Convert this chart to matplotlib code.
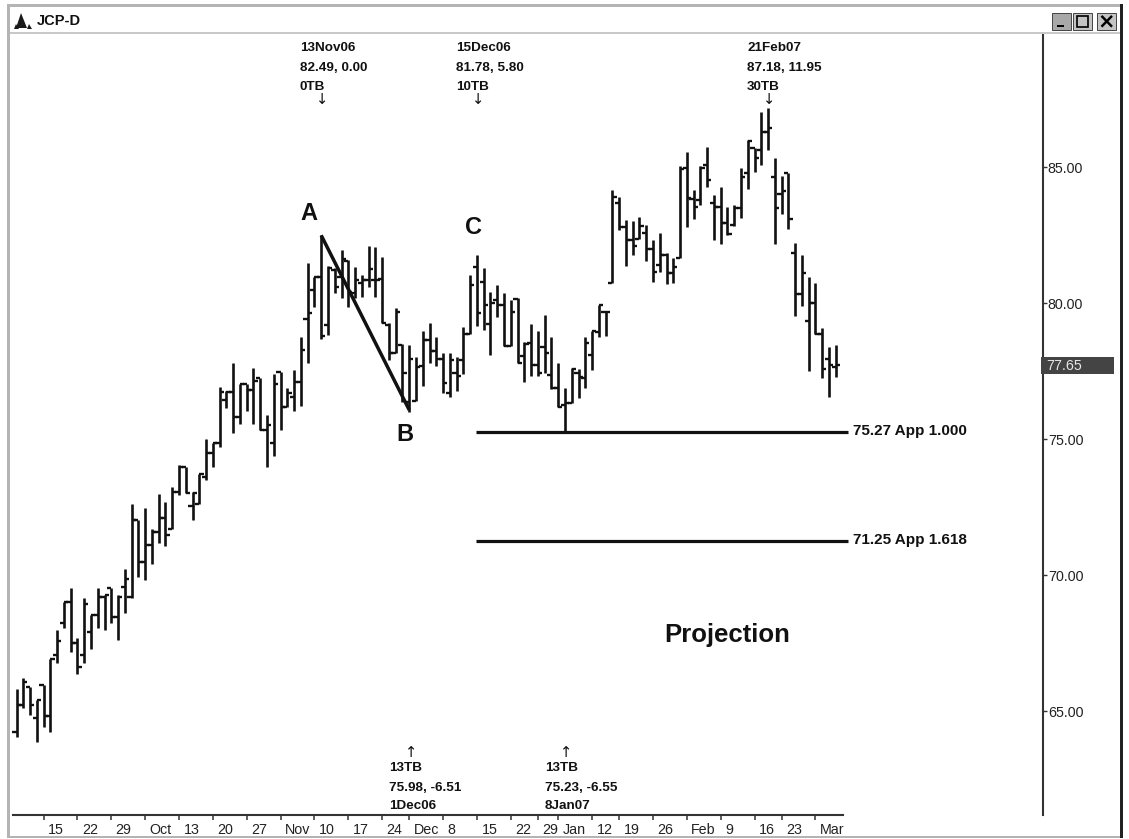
"""
JCP-D daily bars with the ABC projection levels.
"""
import matplotlib
matplotlib.use("Agg")
import matplotlib.pyplot as plt
from matplotlib.patches import Rectangle, Polygon
from matplotlib.transforms import ScaledTranslation

W, H = 1129, 839

# Data (one entry per trading day)
opens = [64.24, 65.22, 65.89, 64.73, 65.95, 64.81, 67.06, 68.25, 69.02, 67.49,
         67.06, 67.91, 68.53, 69.20, 69.51, 68.47, 69.57, 69.18, 72.02, 70.49,
         71.10, 71.59, 72.08, 71.71, 73.06, 73.96, 72.53, 72.63, 73.61, 74.47,
         74.84, 76.43, 76.74, 75.82, 77.04, 76.80, 77.23, 75.33, 74.84, 77.47,
         76.16, 76.55, 77.11, 79.40, 80.48, 80.97, 79.19, 81.22, 80.97, 81.55,
         80.36, 80.73, 80.85, 80.85, 80.87, 79.19, 78.15, 78.46, 76.38, 76.41,
         77.69, 78.64, 78.25, 77.93, 76.71, 77.42, 77.91, 78.86, 81.34, 80.79,
         79.23, 80.11, 79.93, 78.42, 80.15, 78.05, 78.52, 77.72, 78.40, 77.36,
         76.87, 76.25, 76.31, 77.41, 77.23, 78.09, 78.95, 79.68, 80.72, 83.66,
         82.78, 82.32, 82.34, 82.56, 81.97, 81.40, 81.76, 81.09, 81.64, 84.95,
         83.81, 83.79, 85.07, 83.69, 83.52, 82.93, 82.87, 83.48, 84.77, 85.69,
         85.62, 86.30, 84.64, 84.01, 84.77, 81.83, 80.35, 79.35, 80.00, 78.86,
         77.93, 77.66]
highs = [65.83, 66.20, 65.89, 65.40, 65.95, 66.93, 67.98, 69.02, 69.51, 67.67,
         69.14, 68.53, 69.54, 69.26, 69.51, 69.26, 70.24, 72.61, 72.02, 72.45,
         71.71, 72.98, 72.69, 73.22, 74.04, 73.96, 73.06, 73.71, 75.02, 74.84,
         76.90, 76.78, 77.80, 77.04, 77.04, 77.60, 77.23, 75.88, 77.39, 77.47,
         76.86, 77.53, 78.74, 81.46, 80.97, 82.49, 81.36, 81.28, 81.95, 81.58,
         81.34, 81.03, 82.10, 82.05, 81.68, 79.26, 79.81, 78.50, 78.46, 78.03,
         78.99, 79.26, 78.74, 78.15, 78.15, 78.03, 79.11, 81.03, 81.78, 81.28,
         80.42, 80.67, 80.36, 80.11, 80.17, 78.58, 79.23, 78.99, 79.56, 78.74,
         77.81, 76.86, 77.60, 77.56, 78.76, 78.98, 79.93, 79.68, 84.15, 83.91,
         83.05, 83.03, 83.15, 82.87, 82.32, 82.58, 81.85, 81.67, 85.04, 85.54,
         84.15, 85.04, 85.75, 83.97, 84.25, 83.52, 83.60, 84.95, 86.00, 85.69,
         87.03, 87.18, 85.32, 84.67, 84.77, 82.22, 81.76, 80.94, 80.75, 79.10,
         78.39, 78.46]
lows = [64.05, 65.10, 64.85, 63.87, 64.42, 64.24, 66.75, 68.04, 67.18, 66.36,
        66.75, 67.30, 68.04, 67.98, 68.22, 67.61, 68.59, 69.14, 69.94, 69.81,
        70.40, 71.19, 71.06, 71.71, 72.94, 73.00, 72.02, 72.63, 73.51, 73.96,
        74.72, 76.13, 75.23, 75.57, 76.04, 75.57, 75.33, 73.96, 74.37, 75.33,
        76.16, 76.04, 76.23, 77.81, 79.87, 78.67, 78.83, 80.36, 80.17, 79.87,
        80.17, 80.23, 80.60, 80.23, 79.26, 77.91, 78.15, 76.38, 75.98, 76.41,
        76.95, 77.81, 77.69, 76.68, 76.54, 76.78, 77.39, 78.86, 79.16, 79.01,
        78.09, 79.50, 78.42, 78.42, 77.78, 77.11, 77.30, 77.30, 77.44, 76.83,
        76.17, 75.23, 76.31, 76.50, 76.86, 77.54, 78.74, 78.79, 80.72, 82.68,
        81.36, 81.76, 82.34, 81.56, 80.78, 81.15, 80.69, 80.75, 81.64, 82.81,
        83.08, 83.60, 84.25, 82.32, 82.17, 82.50, 82.83, 83.14, 84.18, 84.83,
        85.07, 85.62, 82.17, 83.27, 82.74, 79.52, 79.89, 77.51, 78.86, 77.23,
        76.56, 77.29]
closes = [65.22, 66.08, 65.22, 65.40, 64.81, 66.93, 67.58, 69.02, 67.49, 66.63,
          68.93, 68.53, 69.20, 69.26, 68.47, 69.20, 69.84, 72.02, 70.49, 71.10,
          71.59, 72.08, 71.47, 73.06, 73.96, 73.00, 73.00, 73.71, 74.47, 74.84,
          76.74, 76.74, 75.82, 77.04, 76.80, 77.14, 75.33, 75.51, 77.04, 76.16,
          76.70, 77.11, 78.28, 79.62, 80.97, 78.77, 81.28, 80.58, 81.61, 80.42,
          80.85, 80.85, 81.24, 80.85, 79.26, 78.15, 79.68, 77.42, 77.93, 77.66,
          78.64, 78.25, 77.93, 77.05, 77.91, 77.30, 78.86, 80.67, 79.62, 79.93,
          80.00, 79.93, 78.42, 79.68, 77.78, 78.50, 77.72, 77.44, 78.15, 76.87,
          76.19, 76.31, 77.56, 77.29, 78.54, 78.98, 79.93, 79.68, 83.88, 82.78,
          82.32, 82.09, 82.83, 81.97, 81.15, 81.76, 81.09, 81.31, 84.91, 83.85,
          83.52, 84.95, 84.52, 83.54, 82.93, 82.54, 83.48, 84.62, 85.97, 85.32,
          86.30, 86.42, 83.48, 84.13, 83.08, 80.35, 81.11, 80.00, 78.86, 77.56,
          77.72, 77.74]

date_ticks = [4, 9, 14, 19, 24, 29, 34, 39, 44, 49, 54, 58, 63, 68, 73, 77, 80,
              85, 89, 94, 99, 104, 109, 113, 118]
date_labels = ["15", "22", "29", "Oct", "13", "20", "27", "Nov", "10", "17", "24",
               "Dec", "8", "15", "22", "29", "Jan", "12", "19", "26", "Feb", "9",
               "16", "23", "Mar"]
price_ticks = [65, 70, 75, 80, 85]
last_price = 77.65

# swing line A -> B
swing_x = [45, 58]
swing_y = [82.49, 76.07]

# projection levels
level_values = [75.27, 71.25]
level_labels = ["75.27 App 1.000", "71.25 App 1.618"]
level_start = 67.8
level_end = 122.8

# pivots: (text lines, text left px, arrow x px)
top_notes = [(["13Nov06", "82.49, 0.00", "0TB"], 300, 322),
             (["15Dec06", "81.78, 5.80", "10TB"], 456, 478),
             (["21Feb07", "87.18, 11.95", "30TB"], 747, 769)]
bottom_notes = [(["13TB", "75.98, -6.51", "1Dec06"], 389, 411),
                (["13TB", "75.23, -6.55", "8Jan07"], 545, 566)]
top_rows = [51, 71, 90]
bottom_rows = [771, 791, 809]

plt.rcParams["font.family"] = ["Liberation Sans", "DejaVu Sans"]
INK = "#111111"
AXIS = "#333333"
FRAME = "#b4b4b4"


def fx(x):
    return x / W


def fy(y):
    return 1 - y / H


fig = plt.figure(figsize=(W / 100, H / 100), dpi=100, facecolor="white")

# window chrome
for x, y, w, h, c in [(7, 4, 3, 833, FRAME), (7, 4, 1116, 3, FRAME), (10, 32, 1110, 2, "#c8c8c8"),
                      (7, 836, 1116, 2, FRAME), (1120, 4, 3, 834, "#222222")]:
    fig.add_artist(Rectangle((fx(x), fy(y + h)), w / W, h / H, transform=fig.transFigure,
                             facecolor=c, edgecolor="none"))
for x, c in [(1052, "#a8a8a8"), (1073, "#c4c4c4"), (1097, "#c4c4c4")]:
    fig.add_artist(Rectangle((fx(x), fy(30)), 19 / W, 17 / H, transform=fig.transFigure,
                             facecolor=c, edgecolor="#444444", linewidth=0.7))
fig.add_artist(Rectangle((fx(1057), fy(27)), 7 / W, 2 / H, transform=fig.transFigure,
                         facecolor="black", edgecolor="none"))
fig.add_artist(Rectangle((fx(1077), fy(27)), 11 / W, 11 / H, transform=fig.transFigure,
                         facecolor="none", edgecolor="black", linewidth=1.2))
fig.text(fx(1106.5), fy(21.5), "×", ha="center", va="center", fontsize=15, fontweight="bold",
         family="DejaVu Sans", color="black")

# icon + title
for pts in [[(21, 13), (27, 28), (16, 28)], [(16, 24), (19, 29), (14, 29)], [(29, 24), (32, 29), (27, 29)]]:
    fig.add_artist(Polygon([(fx(a), fy(b)) for a, b in pts], transform=fig.transFigure,
                           facecolor="#1a1a1a", edgecolor="none"))
fig.text(fx(37), fy(21), "JCP-D", ha="left", va="center", fontsize=10.5, fontweight="bold", color=INK)

# ---- price axes ----
ax = fig.add_axes([fx(10), fy(815), (1043 - 10) / W, (815 - 34) / H])
ax.set_xlim(-0.96, 151.6)
ax.set_ylim(61.18, 89.89)
ax.patch.set_alpha(0)

idx = list(range(len(opens)))
ax.vlines(idx, lows, highs, color=INK, linewidth=1.9)
ax.hlines(opens, [i - 0.62 for i in idx], idx, color=INK, linewidth=1.7)
ax.hlines(closes, idx, [i + 0.62 for i in idx], color=INK, linewidth=1.7)

ax.plot(swing_x, swing_y, color=INK, linewidth=2.5, solid_capstyle="butt")
for val, label in zip(level_values, level_labels):
    ax.plot([level_start, level_end], [val, val], color=INK, linewidth=2.3, solid_capstyle="butt")
    ax.annotate(label, xy=(level_end, val), xytext=(3.8, 0.5), textcoords="offset points",
                ha="left", va="center", fontsize=11, fontweight="bold", color=INK)

ax.spines["top"].set_visible(False)
ax.spines["left"].set_visible(False)
ax.spines["right"].set_linewidth(1.5)
ax.spines["right"].set_color(AXIS)
ax.spines["bottom"].set_linewidth(1.5)
ax.spines["bottom"].set_color(AXIS)
ax.spines["bottom"].set_bounds(-0.5, 122)

ax.yaxis.tick_right()
ax.set_yticks(price_ticks)
ax.set_yticklabels([f"{p:.2f}" for p in price_ticks])
ax.tick_params(axis="y", direction="out", length=3, width=1, color=AXIS, pad=0.5, labelsize=10.3, labelcolor="#222222")
ax.set_xticks(date_ticks)
ax.set_xticklabels(date_labels, ha="left")
ax.tick_params(axis="x", direction="out", length=3.5, width=1.1, color=AXIS, pad=2.5, labelsize=10.3, labelcolor="#222222")
shift = ScaledTranslation(3.2 / 72, 0, fig.dpi_scale_trans)
for lbl in ax.get_xticklabels():
    lbl.set_transform(lbl.get_transform() + shift)

# last price box
fig.add_artist(Rectangle((fx(1041), fy(374)), 73 / W, 17 / H, transform=fig.transFigure,
                         facecolor="#444444", edgecolor="none"))
fig.text(fx(1046), fy(365.5), f"{last_price:.2f}", ha="left", va="center", fontsize=10.3, color="#e6e6e6")

# pivot notes
for lines, tx, arrow_x in top_notes:
    for line, row in zip(lines, top_rows):
        fig.text(fx(tx), fy(row), line, ha="left", va="baseline", fontsize=9.7, fontweight="bold", color=INK)
    fig.text(fx(arrow_x), fy(100), "↓", ha="center", va="center", fontsize=10.5,
             family="DejaVu Sans", color=INK)
for lines, tx, arrow_x in bottom_notes:
    for line, row in zip(lines, bottom_rows):
        fig.text(fx(tx), fy(row), line, ha="left", va="baseline", fontsize=9.7, fontweight="bold", color=INK)
    fig.text(fx(arrow_x), fy(752.5), "↑", ha="center", va="center", fontsize=10.5,
             family="DejaVu Sans", color=INK)

# wave letters
for letter, x, y in [("A", 309, 213.5), ("B", 405, 434), ("C", 473, 227.5)]:
    fig.text(fx(x), fy(y), letter, ha="center", va="center", fontsize=17, fontweight="bold", color=INK)
fig.text(fx(727), fy(635), "Projection", ha="center", va="center", fontsize=18.5, fontweight="bold", color=INK)

fig.savefig("out.png", dpi=100)
plt.close(fig)
